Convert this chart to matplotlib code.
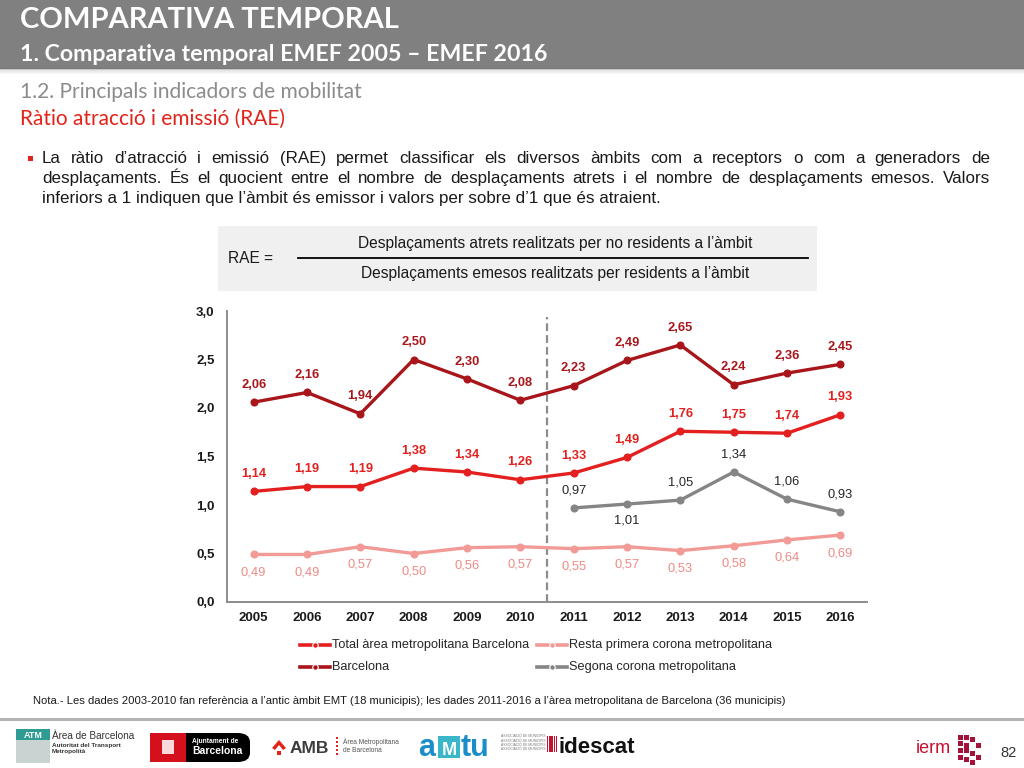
import matplotlib
matplotlib.use("Agg")
import matplotlib.pyplot as plt
import numpy as np
from matplotlib.patches import Rectangle, FancyBboxPatch, Polygon
from matplotlib.lines import Line2D
from matplotlib import font_manager

# ---------------- data ----------------
years = ["2005", "2006", "2007", "2008", "2009", "2010",
         "2011", "2012", "2013", "2014", "2015", "2016"]
barcelona = [2.06, 2.16, 1.94, 2.50, 2.30, 2.08, 2.23, 2.49, 2.65, 2.24, 2.36, 2.45]
total_amb = [1.14, 1.19, 1.19, 1.38, 1.34, 1.26, 1.33, 1.49, 1.76, 1.75, 1.74, 1.93]
resta_primera = [0.49, 0.49, 0.57, 0.50, 0.56, 0.57, 0.55, 0.57, 0.53, 0.58, 0.64, 0.69]
segona = [None, None, None, None, None, None, 0.97, 1.01, 1.05, 1.34, 1.06, 0.93]
segona_label_below = [False, False, False, False, False, False, False, True, False, False, False, False]
yticks = [0.0, 0.5, 1.0, 1.5, 2.0, 2.5, 3.0]
ytick_labels = ["0,0", "0,5", "1,0", "1,5", "2,0", "2,5", "3,0"]
series_names = ["Total àrea metropolitana Barcelona", "Barcelona",
                "Resta primera corona metropolitana", "Segona corona metropolitana"]

# ---------------- helpers ----------------
W, H = 1024, 768
fig = plt.figure(figsize=(W / 100, H / 100), dpi=100)
renderer = fig.canvas.get_renderer()


def have(fam):
    try:
        font_manager.findfont(font_manager.FontProperties(family=fam), fallback_to_default=False)
        return True
    except Exception:
        return False


NARROW = "Liberation Sans Narrow" if have("Liberation Sans Narrow") else "Liberation Sans"
ARIAL = "Liberation Sans"
TITLEF = "Lato" if have("Lato") else "DejaVu Sans"


def fx(x):
    return x / W


def fy(y):
    return 1 - y / H


def twidth(s, fs, **kw):
    t = fig.text(0, 0, s, fontsize=fs, **kw)
    w = t.get_window_extent(renderer).width
    t.remove()
    return w


def fit_size(s, width, **kw):
    return 10 * width / twidth(s, 10, **kw)


def put(x, y, s, fs, ha="left", va="baseline", **kw):
    return fig.text(fx(x), fy(y), s, fontsize=fs, ha=ha, va=va, **kw)


def justify(x0, x1, y, s, fs, **kw):
    words = s.split(" ")
    ws = [twidth(w, fs, **kw) for w in words]
    gap = (x1 - x0 - sum(ws)) / (len(words) - 1)
    x = x0
    for w, wd in zip(words, ws):
        put(x, y, w, fs, **kw)
        x += wd + gap


# ---------------- header ----------------
fig.add_artist(Rectangle((0, fy(68)), 1, 68 / H, transform=fig.transFigure,
                         color="#808080", zorder=1))
for i in range(6):
    fig.add_artist(Rectangle((0, fy(68 + i + 1)), 1, 1 / H, transform=fig.transFigure,
                             color="#606060", alpha=0.25 * (1 - i / 6), lw=0, zorder=1))

s = "COMPARATIVA TEMPORAL"
put(20, 28, s, fit_size(s, 378, family=TITLEF, weight="bold"), family=TITLEF,
    weight="bold", color="white", zorder=3)
s = "1. Comparativa temporal EMEF 2005 – EMEF 2016"
put(20, 61, s, fit_size(s, 528, family=TITLEF, weight="bold"), family=TITLEF,
    weight="bold", color="white", zorder=3)
s = "1.2. Principals indicadors de mobilitat"
put(20, 98, s, fit_size(s, 345, family=TITLEF), family=TITLEF, color="#8c8c8c")
s = "Ràtio atracció i emissió (RAE)"
put(20, 125, s, fit_size(s, 266, family=TITLEF), family=TITLEF, color="#e2231a")

# ---------------- bullet text ----------------
line1 = "La ràtio d’atracció i emissió (RAE) permet classificar els diversos àmbits com a receptors o com a generadors de"
line2 = "desplaçaments. És el quocient entre el nombre de desplaçaments atrets i el nombre de desplaçaments emesos. Valors"
line3 = "inferiors a 1 indiquen que l’àmbit és emissor i valors per sobre d’1 que és atraient."
bfs = fit_size(line3, 618, family=NARROW)
fig.add_artist(Rectangle((fx(28), fy(161)), 5 / W, 5 / H, transform=fig.transFigure,
                         color="#e2231a", lw=0))
justify(42, 990, 163, line1, bfs, family=NARROW, color="#1a1a1a")
justify(42, 990, 183, line2, bfs, family=NARROW, color="#1a1a1a")
put(42, 203, line3, bfs, family=NARROW, color="#1a1a1a")

# ---------------- formula box ----------------
fig.add_artist(Rectangle((fx(218), fy(291)), (817 - 218) / W, (291 - 226) / H,
                         transform=fig.transFigure, color="#f0f0f0", lw=0))
num = "Desplaçaments atrets realitzats per no residents a l’àmbit"
den = "Desplaçaments emesos realitzats per residents a l’àmbit"
ffs = fit_size(num, 396, family=NARROW)
put(228, 263, "RAE =", ffs, family=NARROW, color="#1a1a1a")
put(555, 248, num, ffs, ha="center", family=NARROW, color="#1a1a1a")
put(555, 278, den, ffs, ha="center", family=NARROW, color="#1a1a1a")
fig.add_artist(Line2D([fx(298), fx(808)], [fy(258), fy(258)], transform=fig.transFigure,
                      color="black", lw=1.3))

# ---------------- chart ----------------
ax = fig.add_axes([fx(227), fy(602), 640 / W, (602 - 311) / H])
x = np.arange(len(years))
c_bcn, c_tot, c_res, c_seg = "#a8161b", "#e3201f", "#f29a96", "#858585"
t_bcn, t_tot, t_res, t_seg = "#a8161b", "#e3201f", "#f08a86", "#262626"


def arr(v):
    return np.array([np.nan if a is None else a for a in v], dtype=float)


kw_line = dict(lw=2.4, marker="o", ms=4.8, solid_capstyle="round")
ax.plot(x, arr(resta_primera), color=c_res, **kw_line, zorder=3)
ax.plot(x, arr(segona), color=c_seg, **kw_line, zorder=3)
ax.plot(x, arr(total_amb), color=c_tot, **kw_line, zorder=4)
ax.plot(x, arr(barcelona), color=c_bcn, **kw_line, zorder=4)

lfs = 9.3


def fmt(v):
    return f"{v:.2f}".replace(".", ",")


for i, v in enumerate(barcelona):
    ax.annotate(fmt(v), (x[i], v), xytext=(0, 12.5), textcoords="offset points",
                ha="center", va="center", fontsize=lfs, weight="bold", color=t_bcn, family=ARIAL)
for i, v in enumerate(total_amb):
    ax.annotate(fmt(v), (x[i], v), xytext=(0, 12.5), textcoords="offset points",
                ha="center", va="center", fontsize=lfs, weight="bold", color=t_tot, family=ARIAL)
for i, v in enumerate(resta_primera):
    ax.annotate(fmt(v), (x[i], v), xytext=(0, -13), textcoords="offset points",
                ha="center", va="center", fontsize=lfs, color=t_res, family=ARIAL)
for i, v in enumerate(segona):
    if v is None:
        continue
    dy = -12 if segona_label_below[i] else 12.5
    ax.annotate(fmt(v), (x[i], v), xytext=(0, dy), textcoords="offset points",
                ha="center", va="center", fontsize=lfs, color=t_seg, family=ARIAL)

ax.axvline(5.5, ymin=0, ymax=0.98, color="#8c8c8c", lw=1.6, ls=(0, (3.5, 1.8)), zorder=2)

ax.set_xlim(-0.5, len(years) - 0.5)
ax.set_ylim(0, 3.0)
ax.set_yticks(yticks)
ax.set_yticklabels(ytick_labels)
ax.set_xticks(x)
ax.set_xticklabels(years)
for lab in ax.get_yticklabels() + ax.get_xticklabels():
    lab.set_fontweight("bold")
    lab.set_family(ARIAL)
    lab.set_fontsize(9.5)
    lab.set_color("#1a1a1a")
ax.tick_params(axis="both", length=0)
ax.tick_params(axis="y", pad=9)
ax.tick_params(axis="x", pad=7)
for sp in ["top", "right"]:
    ax.spines[sp].set_visible(False)
for sp in ["left", "bottom"]:
    ax.spines[sp].set_color("#8c8c8c")
    ax.spines[sp].set_linewidth(1.4)
ax.patch.set_alpha(0)

# ---------------- legend ----------------
leg_cols = [c_tot, c_bcn, c_res, c_seg]
leg_pos = [(300, 645), (300, 667), (537, 645), (537, 667)]
legfs = fit_size(series_names[0], 198, family=NARROW)
for name, col, (lx, ly) in zip(series_names, leg_cols, leg_pos):
    fig.add_artist(Line2D([fx(lx), fx(lx + 30)], [fy(ly), fy(ly)], transform=fig.transFigure,
                          color=col, lw=2.6))
    fig.add_artist(Line2D([fx(lx + 15)], [fy(ly)], transform=fig.transFigure,
                          color=col, marker="o", ms=4.0, lw=0,
                          markeredgecolor="white", markeredgewidth=0.8))
    put(lx + 32, ly, name, legfs, va="center", family=NARROW, color="#262626")

# ---------------- note ----------------
nota = ("Nota.- Les dades 2003-2010 fan referència a l’antic àmbit EMT (18 municipis); "
        "les dades 2011-2016 a l’àrea metropolitana de Barcelona (36 municipis)")
put(33, 704, nota, fit_size(nota, 752, family=ARIAL), family=ARIAL, color="#1a1a1a")
fig.add_artist(Line2D([0, 1], [fy(719), fy(719)], transform=fig.transFigure,
                      color="#b4b4b4", lw=2.2))

# ---------------- footer logos (approximate) ----------------
# ATM
fig.add_artist(Rectangle((fx(16), fy(763)), 34 / W, 34 / H, transform=fig.transFigure,
                         color="#c8d3d2", lw=0))
fig.add_artist(Rectangle((fx(16), fy(740)), 34 / W, 11 / H, transform=fig.transFigure,
                         color="#2f9c94", lw=0))
put(33, 738, "ATM", 6.5, ha="center", weight="bold", color="white", family=ARIAL)
put(52, 739, "Àrea de Barcelona", 7.2, family=NARROW, color="#333333")
put(52, 747, "Autoritat del Transport", 4.6, weight="bold", family=ARIAL, color="#333333")
put(52, 753, "Metropolità", 4.6, weight="bold", family=ARIAL, color="#333333")
# Ajuntament
fig.add_artist(FancyBboxPatch((fx(150), fy(762)), 100 / W, 29 / H,
                              boxstyle="round,pad=0,rounding_size=0.012",
                              transform=fig.transFigure, color="black", lw=0))
fig.add_artist(Rectangle((fx(150), fy(762)), 36 / W, 29 / H, transform=fig.transFigure,
                         color="#d4101c", lw=0))
fig.add_artist(Rectangle((fx(162), fy(754)), 12 / W, 14 / H, transform=fig.transFigure,
                         facecolor="#ffffff", edgecolor="#ffffff", lw=0, alpha=0.85))
put(192, 743, "Ajuntament de", 4.8, weight="bold", family=ARIAL, color="white")
put(192, 754, "Barcelona", 7.5, weight="bold", family=ARIAL, color="white")
# AMB
fig.add_artist(Polygon([[fx(272), fy(748)], [fx(279), fy(740)], [fx(286), fy(748)],
                        [fx(283), fy(750)], [fx(279), fy(745)], [fx(275), fy(750)]],
                       transform=fig.transFigure, color="#e2231a", lw=0))
fig.add_artist(Rectangle((fx(277), fy(755)), 4 / W, 4 / H, transform=fig.transFigure,
                         color="#e2231a", lw=0))
put(290, 753, "AMB", 12.5, weight="bold", family=ARIAL, color="#3c3c3c")
for k in range(5):
    fig.add_artist(Rectangle((fx(336), fy(739 + 4 * k)), 2 / W, 2.5 / H,
                             transform=fig.transFigure, color="#e2231a", lw=0))
put(343, 744, "Àrea Metropolitana", 4.8, family=ARIAL, color="#555555")
put(343, 752, "de Barcelona", 4.8, family=ARIAL, color="#555555")
# AMTU
put(418, 756, "a", 22, weight="bold", family=ARIAL, color="#1b8ec9")
fig.add_artist(Rectangle((fx(438), fy(758)), 22 / W, 22 / H, transform=fig.transFigure,
                         color="#39b6c8", lw=0))
put(449, 755, "M", 13, ha="center", weight="bold", family=ARIAL, color="white")
put(461, 756, "tu", 22, weight="bold", family=ARIAL, color="#1b8ec9")
for k in range(4):
    put(501, 737 + 4.5 * k, "ASSOCIACIÓ DE MUNICIPIS", 2.4, family=ARIAL, color="#777777")
# idescat
for k in range(5):
    fig.add_artist(Rectangle((fx(547 + 2.2 * k), fy(752)), 1.4 / W, 16 / H,
                             transform=fig.transFigure, color="#c8102e", lw=0))
put(559, 753, "idescat", 16, weight="bold", family=ARIAL, color="#111111")
# iermB
put(916, 753, "ierm", 13, family=ARIAL, color="#c8102e")
pix = [(958, 735), (964, 735), (970, 737), (958, 741), (964, 743), (976, 743),
       (958, 748), (964, 748), (970, 751), (958, 755), (964, 757), (976, 755), (970, 760)]
for (px_, py_) in pix:
    fig.add_artist(Rectangle((fx(px_), fy(py_ + 5)), 5 / W, 5 / H,
                             transform=fig.transFigure, color="#a3123a", lw=0))
put(1000, 757, "82", 10.5, family=ARIAL, color="#333333")

fig.savefig("out.png", dpi=100)
